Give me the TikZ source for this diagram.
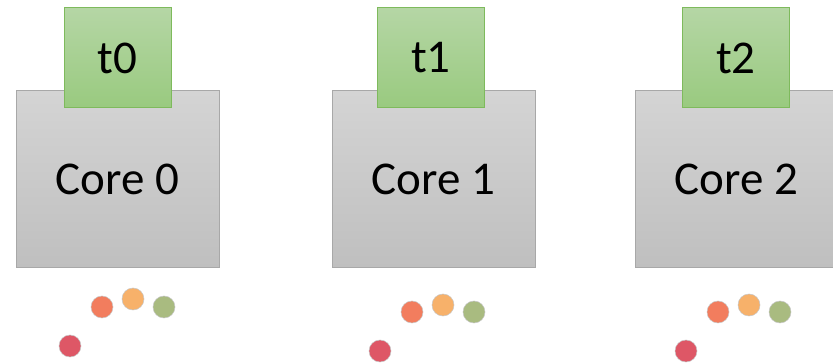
\documentclass[tikz,border=0pt]{standalone}
\usepackage{fontspec}
\setmainfont{Carlito}
\definecolor{coretop}{HTML}{D4D4D4}
\definecolor{corebot}{HTML}{BFBFBF}
\definecolor{coreline}{HTML}{A8A8A8}
\definecolor{thrtop}{HTML}{B5D6A5}
\definecolor{thrbot}{HTML}{99CA7F}
\definecolor{thrline}{HTML}{7EBA5C}
\definecolor{dotred}{HTML}{DE5766}
\definecolor{dotcoral}{HTML}{F27D5E}
\definecolor{dotorange}{HTML}{F7B16A}
\definecolor{dotgreen}{HTML}{A9BB80}
\tikzset{
  corebox/.style={rectangle, draw=coreline, line width=1pt, top color=coretop, bottom color=corebot,
    minimum width=203pt, minimum height=177pt, inner sep=0pt,
    font=\fontsize{47}{56}\selectfont},
  thread/.style={rectangle, draw=thrline, line width=1pt, top color=thrtop, bottom color=thrbot,
    minimum width=107pt, minimum height=100pt, inner sep=0pt,
    font=\fontsize{47}{56}\selectfont},
  ball/.style={circle, minimum size=22pt, inner sep=0pt, draw=black!22, line width=0.5pt}
}
\begin{document}
\begin{tikzpicture}[x=1pt,y=-1pt]
  \clip (0,0) rectangle (833,363);
  \fill[white] (0,0) rectangle (833,363);
  % cores
  \node[corebox] (c0) at (117.5,179.5) {Core 0};
  \node[corebox] (c1) at (433.5,179.5) {Core 1};
  \node[corebox] (c2) at (736.5,179.5) {Core 2};
  % threads sitting on the cores
  \node[thread] (t0) at (117.5,58) {t0};
  \node[thread] (t1) at (431,58) {t1};
  \node[thread] (t2) at (736,58) {t2};
  % pending work items below each core
  \node[ball, fill=dotred]    (r0) at (70,346) {};
  \node[ball, fill=dotcoral]  (a0) at (102,307) {};
  \node[ball, fill=dotorange] (o0) at (133,299) {};
  \node[ball, fill=dotgreen]  (g0) at (164,307) {};
  \node[ball, fill=dotred]    (r1) at (380,351) {};
  \node[ball, fill=dotcoral]  (a1) at (412,312) {};
  \node[ball, fill=dotorange] (o1) at (443,305) {};
  \node[ball, fill=dotgreen]  (g1) at (474,312) {};
  \node[ball, fill=dotred]    (r2) at (686,351) {};
  \node[ball, fill=dotcoral]  (a2) at (718,312) {};
  \node[ball, fill=dotorange] (o2) at (749,305) {};
  \node[ball, fill=dotgreen]  (g2) at (780,312) {};
\end{tikzpicture}
\end{document}
